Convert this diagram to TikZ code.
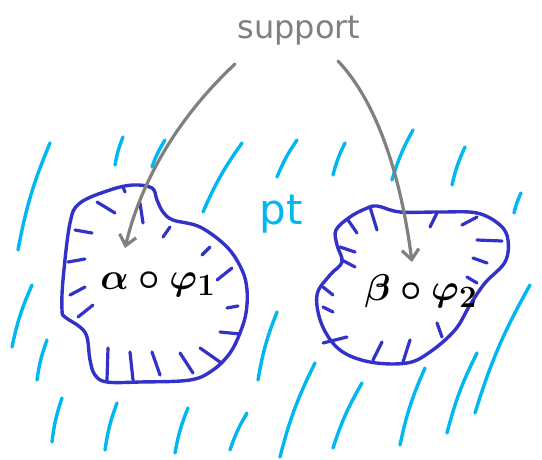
\documentclass[tikz,border=0pt]{standalone}
\usepackage{fontspec}
\setmainfont{DejaVu Sans}
\usetikzlibrary{arrows.meta}
\definecolor{rain}{HTML}{00B7F1}
\definecolor{blob}{HTML}{3232C8}
\definecolor{note}{HTML}{808080}

\begin{document}
\begin{tikzpicture}[x=1pt,y=-1pt,line cap=round,line join=round,
  rainln/.style={rain,line width=3.4pt},
  rim/.style={blob,line width=3.4pt},
  hatch/.style={blob,line width=3.2pt},
  arr/.style={note,line width=3.2pt,-{Straight Barb[length=10pt,width=17pt,line width=3.2pt]}}]
\useasboundingbox (0,0) rectangle (542,459);
% the pt rain
\foreach \xa/\ya/\xb/\yb in {50/143/18/250,123/137/115/165,165/140/152/167,242/143/203/212,
  297/140/277/177,345/143/333/175,413/130/392/180,465/147/452/185,521/193/514/213,
  32/285/12/347,47/340/37/380,62/398/52/442,117/403/105/450,188/408/175/453,
  247/413/230/450,277/312/258/380,315/363/280/457,362/383/333/448,425/368/400/445,
  477/353/447/433,530/285/475/413}
  \draw[rainln] (\xa,\ya) to[bend right=6] (\xb,\yb);
% first region
\draw[rim] plot[smooth cycle,tension=0.6] coordinates {(133,185) (152,188) (157,200) (163,212)
  (173,220) (200,227) (227,247) (242,270) (247,290) (246,313) (240,333) (230,353) (213,370)
  (190,380) (140,382) (107,382) (95,375) (90,360) (87,337) (80,327) (65,317) (62,310) (63,280)
  (70,223) (80,203) (110,190)};
\foreach \xa/\ya/\xb/\yb in {97/202/115/213,123/187/125/192,140/203/143/223,75/230/92/233,
  170/227/163/237,210/247/202/255,68/262/85/259,232/268/217/280,70/295/85/287,227/308/238/306,
  78/317/93/305,220/332/240/334,200/348/220/362,180/353/193/373,152/352/160/375,130/352/133/380,
  108/348/107/380}
  \draw[hatch] (\xa,\ya) -- (\xb,\yb);
% second region
\draw[rim] plot[smooth cycle,tension=0.6] coordinates {(377,206) (400,212) (440,212) (477,213)
  (500,225) (508,240) (505,262) (485,283) (470,305) (455,330) (430,352) (407,363) (370,362)
  (340,350) (322,325) (317,295) (330,275) (342,262) (337,245) (336,230) (350,217) (365,209)};
\foreach \xa/\ya/\xb/\yb in {370/207/377/230,348/220/357/233,340/247/355/252,342/260/355/267,
  437/213/430/227,477/217/462/225,477/240/502/241,473/258/487/263,467/277/477/283,
  323/287/333/295,323/307/333/312,323/343/347/337,373/360/382/342,403/362/410/340,437/323/442/337}
  \draw[hatch] (\xa,\ya) -- (\xb,\yb);
% labels
\node[note,font=\fontsize{32}{36}\selectfont] (sup) at (299,31) {support};
\node[rain,font=\fontsize{42}{46}\selectfont] (pt) at (281,214) {pt};
\node (lblA) at (158,284) {\scalebox{1.5}{\Huge\boldmath$\alpha\circ\varphi_1$}};
\node (lblB) at (421,291) {\scalebox{1.5}{\Huge\boldmath$\beta\circ\varphi_2$}};
% support arrows
\coordinate (supL) at (235,64);
\coordinate (supR) at (338,61);
\coordinate (tipA) at (125,248);
\coordinate (tipB) at (412,262);
\draw[arr] (supL) .. controls (175,120) and (140,185) .. (tipA);
\draw[arr] (supR) .. controls (375,100) and (400,170) .. (tipB);
\end{tikzpicture}
\end{document}
